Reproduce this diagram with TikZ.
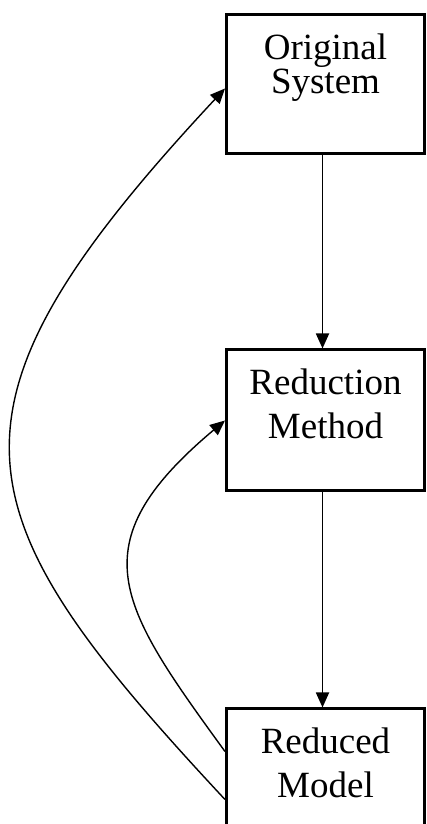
\documentclass[tikz,border=0pt]{standalone}
\usepackage{fontspec}
\setmainfont{Liberation Serif}
\usetikzlibrary{arrows.meta}
\tikzset{
  blk/.style={draw, line width=3pt, fill=white, inner sep=0pt, minimum width=198pt,
    text width=190pt, align=center, anchor=north, text height=45pt, text depth=96pt,
    font=\fontsize{37}{44}\selectfont},
  flow/.style={-{Triangle[length=15pt,width=13pt]}, line width=1.8pt},
  back/.style={-{Triangle[length=15pt,width=13pt]}, line width=1.4pt}
}
\begin{document}
\begin{tikzpicture}[x=1pt,y=1pt]
            \useasboundingbox (0,0) rectangle (427,824);
            \node[blk, text depth=94pt] (orig) at (325.5,810.5) {Original\\[-10pt]System};
            \node[blk] (redm) at (325.5,475.5) {Reduction\\Method};
            \node[blk] (redd) at (325.5,116.5) {Reduced\\Model};
            \draw[flow] ([xshift=-3pt]orig.south) -- ([xshift=-3pt]redm.north);
            \draw[flow] ([xshift=-3pt]redm.south) -- ([xshift=-3pt]redd.north);
            \draw[back] ([yshift=-20pt]redd.west) to[out=133, in=227, out looseness=1.42, in looseness=1.6] ([yshift=-4pt]orig.west);
            \draw[back] ([yshift=28pt]redd.west) to[out=126, in=220, out looseness=1.4, in looseness=1.5] (redm.west);
        \end{tikzpicture}
\end{document}
